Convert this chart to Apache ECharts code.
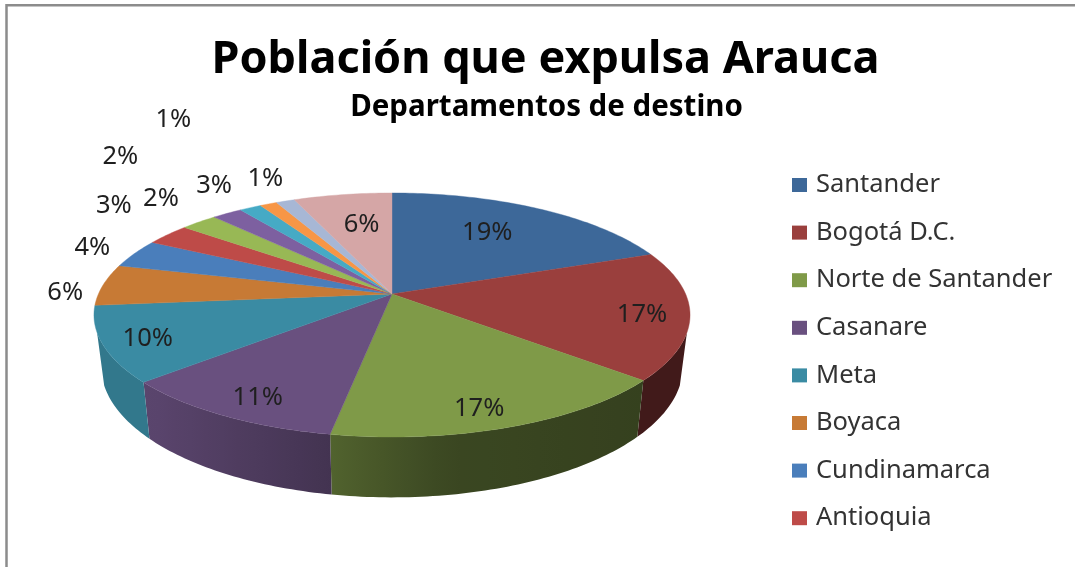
<!DOCTYPE html>
<html><head><meta charset="utf-8">
<style>html,body{margin:0;padding:0;background:#fff}#c{width:1075px;height:567px}</style>
<script src="https://cdn.jsdelivr.net/npm/echarts@6/dist/echarts.min.js"></script>
</head><body><div id="c"></div>
<script>
// Data
const legendNames = ['Santander','Bogotá D.C.','Norte de Santander','Casanare','Meta','Boyaca','Cundinamarca','Antioquia'];
const sliceValues = [19.25,17,16.55,10.7,10,5.5,3.8,2.9,2.35,1.95,1.4,1.1,1.2,6.3];
const sliceLabels = ['19%','17%','17%','11%','10%','6%','4%','3%','2%','3%','1%','2%','1%','6%'];
// Styles
const sliceColors = ['#3d6899','#9a3f3d','#7f9a48','#69507f','#3a8ba3','#c77a35','#4a7ebb','#be4b48','#98b855','#7d60a0','#46aac5','#f79646','#a7b7d5','#d5a6a6'];
const labelNudgeX = [-51,-48,-31,35,45,-38,-42,-54,-38,-13,15,-148,-112,19];
const labelNudgeY = [24,0,-18,-17.5,-5.5,8,-6,-29,-23,-28,-29,-47,-81,30];

const CX=392, CY=294, KX=293.6, KY=118.4, P=0.172, DEPTH=50, SHRINK=0.024;
const VIS_FROM=108, VIS_TO=252;
const total = sliceValues.reduce((a,b)=>a+b,0);
const rad = d=>d*Math.PI/180;
function proj(deg){
  const X=Math.sin(rad(deg)),Y=-Math.cos(rad(deg)),den=1-P*Y;
  return {x:CX+KX*X/den,y:CY+KY*Y/den,den};
}
function low(deg){
  const p=proj(deg);
  return [CX+(p.x-CX)*(1-SHRINK),p.y+DEPTH/p.den];
}
function arc(a,b,fn){
  const pts=[],n=Math.max(2,Math.ceil(Math.abs(b-a)));
  for(let i=0;i<=n;i++)pts.push(fn(a+(b-a)*i/n));
  return pts;
}
function shade(hex,f){
  const v=parseInt(hex.slice(1),16);
  const c=[v>>16&255,v>>8&255,v&255].map(k=>Math.round(k*f));
  return 'rgb('+c.join(',')+')';
}
const lightX=[94,148,330,450,640,690], lightF=[.86,.86,.64,.46,.42,.42];
function lightAt(x){
  for(let i=1;i<lightX.length;i++){
    if(x<=lightX[i]){const t=(x-lightX[i-1])/(lightX[i]-lightX[i-1]);return lightF[i-1]+(lightF[i]-lightF[i-1])*Math.max(0,t);}
  }
  return lightF[lightF.length-1];
}
function makeSeries(i){
  let cum=0;for(let k=0;k<i;k++)cum+=sliceValues[k];
  const a0=cum/total*360,a1=(cum+sliceValues[i])/total*360,mid=(a0+a1)/2;
  return {
    type:'custom',coordinateSystem:'none',
    name:i<legendNames.length?legendNames[i]:'Sector '+(i+1),
    itemStyle:{color:sliceColors[i]},
    silent:true,animation:false,
    data:[[sliceValues[i]]],
    renderItem(){
      const kids=[];
      const s=Math.max(a0,VIS_FROM),e=Math.min(a1,VIS_TO);
      if(e>s){
        const up=arc(s,e,d=>{const p=proj(d);return[p.x,p.y];});
        const dn=arc(e,s,low);
        const pts=up.concat(dn);
        const xs=pts.map(p=>p[0]),x0=Math.min(...xs),x1=Math.max(...xs);
        const stops=[];
        for(let j=0;j<=12;j++){stops.push({offset:j/12,color:shade(sliceColors[i],lightAt(x0+(x1-x0)*j/12))});}
        kids.push({type:'polygon',shape:{points:pts},style:{fill:new echarts.graphic.LinearGradient(x0,0,x1,0,stops,true)}});
      }
      const top=[[CX,CY]].concat(arc(a0,a1,d=>{const p=proj(d);return[p.x,p.y];}));
      kids.push({type:'polygon',shape:{points:top},style:{fill:sliceColors[i],stroke:sliceColors[i],lineWidth:0.4}});
      const m=proj(mid);
      kids.push({type:'text',z2:100,style:{text:sliceLabels[i],x:m.x+labelNudgeX[i],y:m.y+labelNudgeY[i],align:'center',verticalAlign:'middle',font:'25.5px "Noto Sans"',fill:'#1f1f1f'}});
      return {type:'group',children:kids};
    }
  };
}
const chart=echarts.init(document.getElementById('c'),null,{renderer:'canvas'});
chart.setOption({
  backgroundColor:'#fff',animation:false,
  title:[
    {text:'Población que expulsa Arauca',left:540.5,top:33,textAlign:'center',textStyle:{fontFamily:'Noto Sans',fontWeight:'bold',fontSize:45,color:'#000'}},
    {text:'Departamentos de destino',left:541.5,top:88,textAlign:'center',textStyle:{fontFamily:'Noto Sans',fontWeight:'bold',fontSize:29.5,color:'#000'}}
  ],
  legend:{
    data:legendNames,orient:'vertical',left:787,top:167,
    itemWidth:15,itemHeight:14,itemGap:21.6,icon:'rect',selectedMode:false,
    textStyle:{fontFamily:'Noto Sans',fontSize:25.5,color:'#333',padding:[0,0,0,4],lineHeight:25}
  },
  graphic:[{type:'polyline',silent:true,shape:{points:[[6.5,567],[6.5,5.2],[1075,5.2]]},style:{stroke:'#8c8c8c',lineWidth:2.5,fill:null}}],
  series:sliceValues.map((_,i)=>makeSeries(i))
});
</script></body></html>
